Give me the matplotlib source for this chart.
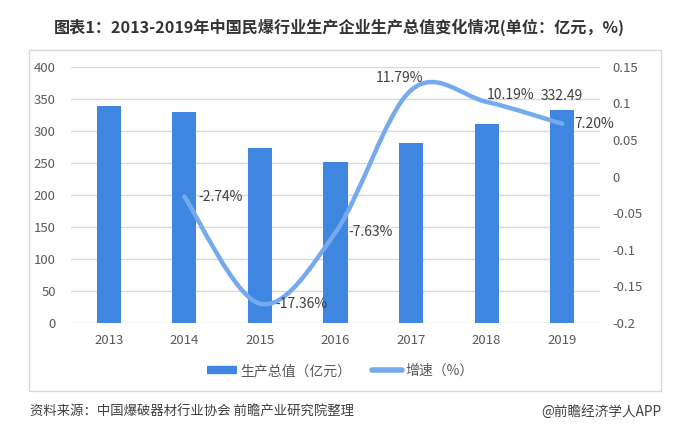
import matplotlib.pyplot as plt
from matplotlib.path import Path
from matplotlib.patches import PathPatch, Rectangle
from matplotlib.lines import Line2D

plt.rcParams['font.family'] = ['Noto Sans CJK SC', 'DejaVu Sans']

years = ['2013', '2014', '2015', '2016', '2017', '2018', '2019']
output_value = [339.14, 329.85, 272.59, 251.79, 281.48, 310.16, 332.49]
growth = [None, -0.0274, -0.1736, -0.0763, 0.1179, 0.1019, 0.0720]
growth_labels = [None, '-2.74%', '-17.36%', '-7.63%', '11.79%', '10.19%', '7.20%']

bar_color = '#3f86e0'
line_color = '#76aaee'
grey = '#595959'

fig = plt.figure(figsize=(6.88, 4.43), dpi=100)
ax = fig.add_axes([71 / 688, 1 - 323 / 443, (600 - 71) / 688, (323 - 66.7) / 443])

x = list(range(len(years)))
ax.bar(x, output_value, width=0.32, color=bar_color, zorder=2)
ax.set_xlim(-0.5, len(years) - 0.5)
ax.set_ylim(0, 400)
ax.set_yticks(range(0, 401, 50))
ax.set_xticks(x)
ax.set_xticklabels(years)
ax.yaxis.grid(True, color='#d9d9d9', linewidth=1, zorder=0)
ax.set_axisbelow(True)
for s in ax.spines.values():
    s.set_visible(False)
ax.tick_params(length=0, colors=grey, labelsize=9.5)
ax.tick_params(axis='x', pad=8)
ax.tick_params(axis='y', pad=11)
ax.annotate('332.49', (x[-1], output_value[-1]), xytext=(0, 10), textcoords='offset points',
            ha='center', va='center', fontsize=10, color='#404040')

ax2 = ax.twinx()
ax2.set_ylim(-0.2, 0.15)
ax2.set_yticks([-0.2, -0.15, -0.1, -0.05, 0, 0.05, 0.1, 0.15])
ax2.set_yticklabels(['-0.2', '-0.15', '-0.1', '-0.05', '0', '0.05', '0.1', '0.15'])
for s in ax2.spines.values():
    s.set_visible(False)
ax2.tick_params(length=0, colors=grey, labelsize=9.5, pad=9)

# smoothed line (Excel-like Catmull-Rom bezier through the points)
px = [i for i, g in zip(x, growth) if g is not None]
py = [g for g in growth if g is not None]
n = len(px)
verts = [(px[0], py[0])]
codes = [Path.MOVETO]
for i in range(n - 1):
    p0 = (px[max(i - 1, 0)], py[max(i - 1, 0)])
    p1 = (px[i], py[i])
    p2 = (px[i + 1], py[i + 1])
    p3 = (px[min(i + 2, n - 1)], py[min(i + 2, n - 1)])
    c1 = (p1[0] + (p2[0] - p0[0]) / 6, p1[1] + (p2[1] - p0[1]) / 6)
    c2 = (p2[0] - (p3[0] - p1[0]) / 6, p2[1] - (p3[1] - p1[1]) / 6)
    verts += [c1, c2, p2]
    codes += [Path.CURVE4] * 3
ax2.add_patch(PathPatch(Path(verts, codes), facecolor='none', edgecolor=line_color,
                        linewidth=3.2, capstyle='round', zorder=3))

offsets = {1: (10, 0, 'left'), 2: (11, 0, 'left'), 3: (9.5, 0, 'left'),
           4: (-8, 9, 'center'), 5: (0, 5, 'left'), 6: (9, 0, 'left')}
for i, lab in enumerate(growth_labels):
    if lab is None:
        continue
    dx, dy, ha = offsets[i]
    ax2.annotate(lab, (x[i], growth[i]), xytext=(dx, dy), textcoords='offset points',
                 ha=ha, va='center', fontsize=10, color='#404040')

# outer frame
fig.patches.append(Rectangle((29 / 688, 1 - 391 / 443), (661 - 29) / 688, (391 - 50) / 443,
                             transform=fig.transFigure, fill=False, edgecolor='#d9d9d9', linewidth=1))

handles = [Line2D([], [], color=bar_color, linewidth=6, solid_capstyle='butt'),
           Line2D([], [], color=line_color, linewidth=4, solid_capstyle='round')]
fig.legend(handles, ['生产总值（亿元）', '增速（%）'], loc='center', bbox_to_anchor=(340 / 688, 1 - 371 / 443),
           ncol=2, frameon=False, fontsize=10, handlelength=2.2, handletextpad=0.2,
           columnspacing=1.5, labelcolor=grey)

fig.text(339 / 688, 1 - 27 / 443, '图表1：2013-2019年中国民爆行业生产企业生产总值变化情况(单位：亿元，%)',
         ha='center', va='center', fontsize=11.6, fontweight='bold', color='#333333')
fig.text(30 / 688, 1 - 412 / 443, '资料来源：中国爆破器材行业协会 前瞻产业研究院整理',
         ha='left', va='center', fontsize=9.6, color='#404040')
fig.text(661 / 688, 1 - 412 / 443, '@前瞻经济学人APP',
         ha='right', va='center', fontsize=9.8, color='#404040')

fig.savefig('out.png', dpi=100)
